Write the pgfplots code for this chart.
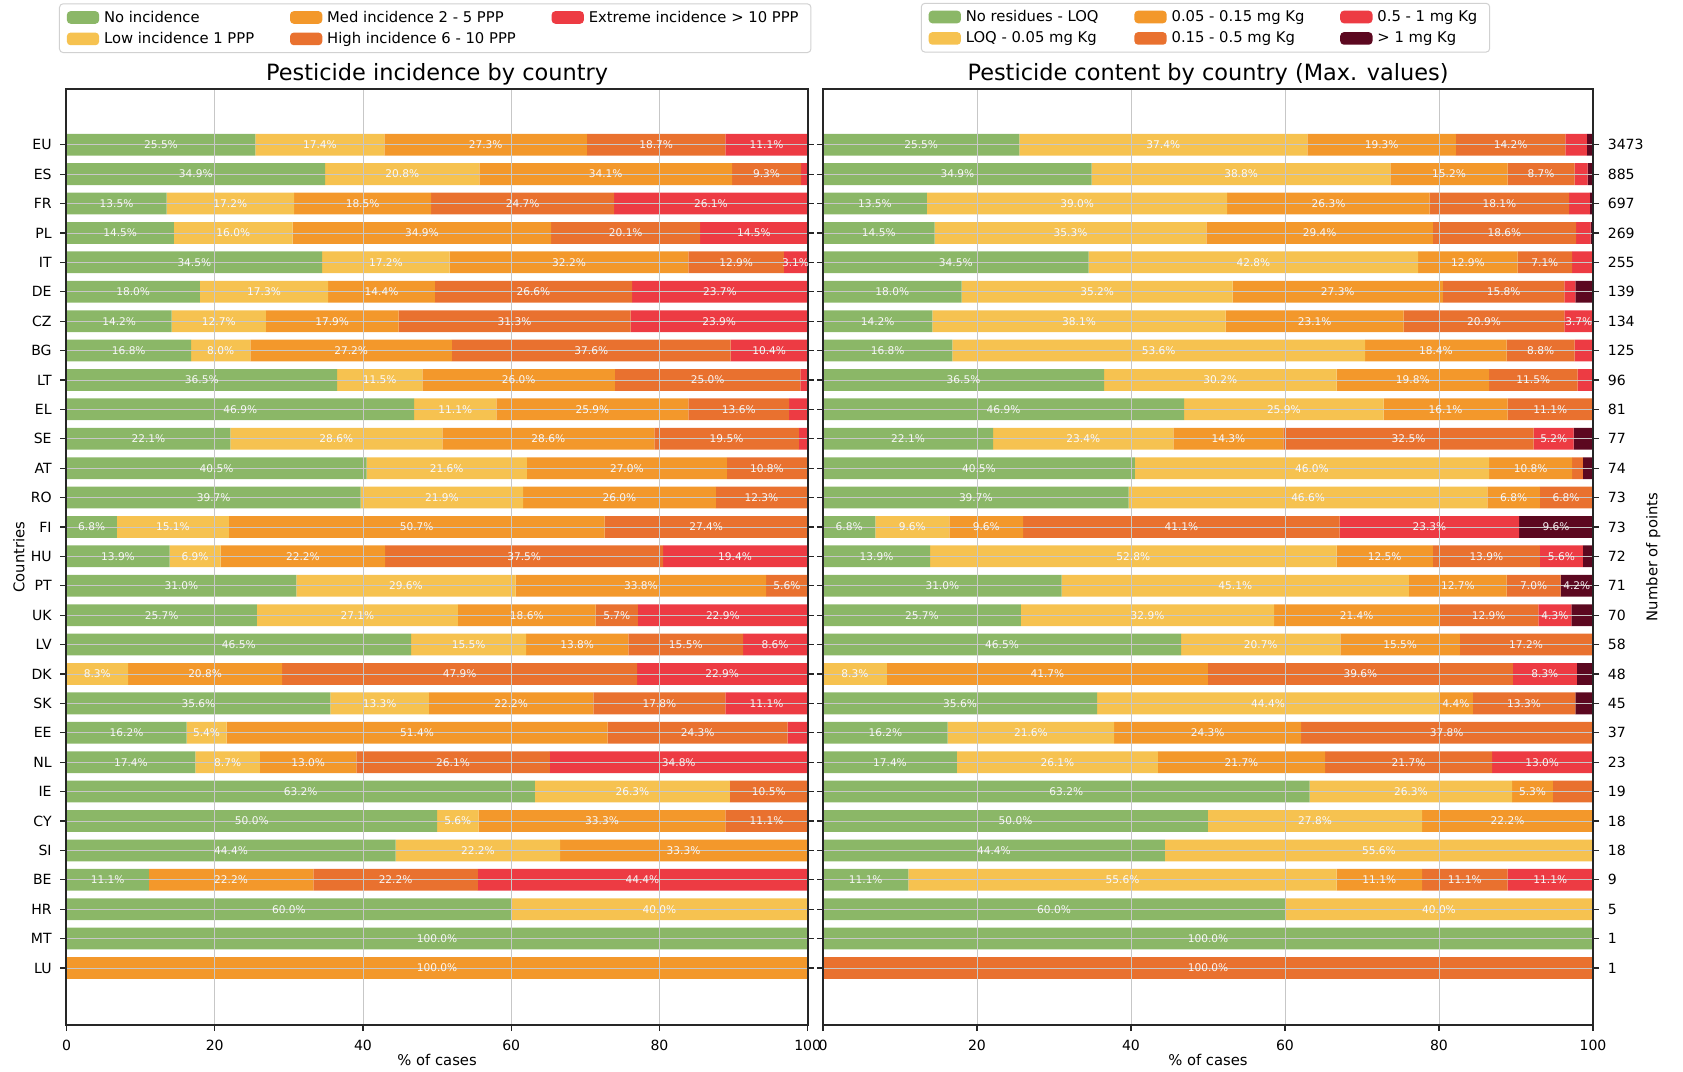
\documentclass[border=0pt]{standalone}
\usepackage{pgfplots}
\usepackage{pgfplotstable}
\usepackage{fontspec}
\setmainfont{DejaVu Sans}
\pgfplotsset{compat=1.18}

% category colours
\definecolor{cNone}{RGB}{139,183,103}
\definecolor{cLow}{RGB}{246,194,80}
\definecolor{cMed}{RGB}{243,152,43}
\definecolor{cHigh}{RGB}{233,113,47}
\definecolor{cExt}{RGB}{237,59,67}
\definecolor{cMax}{RGB}{92,8,32}

% share of cases (%) per incidence class
\pgfplotstableread{
idx none low med high ext
0  25.5 17.4 27.3 18.7 11.1
1  34.9 20.8 34.1  9.3  0.9
2  13.5 17.2 18.5 24.7 26.1
3  14.5 16.0 34.9 20.1 14.5
4  34.5 17.2 32.2 12.9  3.1
5  18.0 17.3 14.4 26.6 23.7
6  14.2 12.7 17.9 31.3 23.9
7  16.8  8.0 27.2 37.6 10.4
8  36.5 11.5 26.0 25.0  1.0
9  46.9 11.1 25.9 13.6  2.5
10 22.1 28.6 28.6 19.5  1.2
11 40.5 21.6 27.0 10.8  0.0
12 39.7 21.9 26.0 12.3  0.0
13  6.8 15.1 50.7 27.4  0.0
14 13.9  6.9 22.2 37.5 19.4
15 31.0 29.6 33.8  5.6  0.0
16 25.7 27.1 18.6  5.7 22.9
17 46.5 15.5 13.8 15.5  8.6
18  0.0  8.3 20.8 47.9 22.9
19 35.6 13.3 22.2 17.8 11.1
20 16.2  5.4 51.4 24.3  2.7
21 17.4  8.7 13.0 26.1 34.8
22 63.2 26.3  0.0 10.5  0.0
23 50.0  5.6 33.3 11.1  0.0
24 44.4 22.2 33.3  0.0  0.0
25 11.1  0.0 22.2 22.2 44.4
26 60.0 40.0  0.0  0.0  0.0
27 100.0 0.0  0.0  0.0  0.0
28  0.0  0.0 100.0 0.0  0.0
}\incidence

% share of cases (%) per maximum residue class
\pgfplotstableread{
idx r0 r1 r2 r3 r4 r5
0  25.5 37.4 19.3 14.2  2.8 0.8
1  34.9 38.8 15.2  8.7  1.7 0.7
2  13.5 39.0 26.3 18.1  2.7 0.4
3  14.5 35.3 29.4 18.6  1.9 0.3
4  34.5 42.8 12.9  7.1  2.7 0.0
5  18.0 35.2 27.3 15.8  1.4 2.2
6  14.2 38.1 23.1 20.9  3.7 0.0
7  16.8 53.6 18.4  8.8  2.4 0.0
8  36.5 30.2 19.8 11.5  2.1 0.0
9  46.9 25.9 16.1 11.1  0.0 0.0
10 22.1 23.4 14.3 32.5  5.2 2.6
11 40.5 46.0 10.8  1.4  0.0 1.4
12 39.7 46.6  6.8  6.8  0.0 0.0
13  6.8  9.6  9.6 41.1 23.3 9.6
14 13.9 52.8 12.5 13.9  5.6 1.4
15 31.0 45.1 12.7  7.0  0.0 4.2
16 25.7 32.9 21.4 12.9  4.3 2.9
17 46.5 20.7 15.5 17.2  0.0 0.0
18  0.0  8.3 41.7 39.6  8.3 2.1
19 35.6 44.4  4.4 13.3  0.0 2.2
20 16.2 21.6 24.3 37.8  0.0 0.0
21 17.4 26.1 21.7 21.7 13.0 0.0
22 63.2 26.3  5.3  5.3  0.0 0.0
23 50.0 27.8 22.2  0.0  0.0 0.0
24 44.4 55.6  0.0  0.0  0.0 0.0
25 11.1 55.6 11.1 11.1 11.1 0.0
26 60.0 40.0  0.0  0.0  0.0 0.0
27 100.0 0.0  0.0  0.0  0.0 0.0
28  0.0  0.0  0.0 100.0 0.0 0.0
}\content

% value label, only for segments of at least 3 %
\newcommand{\barlabel}{\ifdim\pgfplotspointmetatransformed pt<30pt\relax\else\pgfmathprintnumber[fixed,fixed zerofill,precision=1]{\pgfplotspointmeta}\%\fi}

\pgfplotsset{
  panel/.style={
    scale only axis, height=13.35cm,
    xbar stacked, bar width=0.74,
    y dir=reverse,
    xmin=0, xmax=100, ymin=-1.9, ymax=29.94,
    xtick={0,20,40,60,80,100},
    ytick={0,...,28},
    tick align=outside, major tick length=2.5pt,
    xtick pos=bottom, ytick pos=both,
    xmajorgrids, ymajorgrids,
    grid style={black!22, line width=0.35pt},
    axis on top,
    axis line style={line width=0.8pt, black!85},
    every tick/.style={black!85, line width=0.5pt},
    tick label style={font=\fontsize{5.7}{7}\selectfont},
    /pgf/number format/assume math mode=true,
    label style={font=\fontsize{6}{7}\selectfont},
    every axis title/.style={font=\fontsize{9.1}{11}\selectfont, at={(0.5,1)}, anchor=south, inner sep=0pt, yshift=0.045cm},
    xlabel={\% of cases},
    xlabel style={at={(0.5,0)}, anchor=center, yshift=-0.5cm},
    point meta=explicit, point meta min=0, point meta max=100,
    nodes near coords={\barlabel},
    every node near coord/.append style={font=\fontsize{4.3}{5}\selectfont, text=white, text opacity=0.92,
      anchor=center, inner sep=0pt},
    legend image code/.code={\fill[#1] (0cm,-0.09cm) rectangle (0.46cm,0.09cm);},
    legend style={draw=black!18, rounded corners=1.5pt, font=\fontsize{6}{7}\selectfont,
      anchor=north west, inner xsep=3pt, inner ysep=1.5pt, row sep=0.6pt,
      nodes={inner ysep=0.5pt, text height=5.4pt, text depth=1.7pt},
      /tikz/every even column/.append style={column sep=0.44cm}},
    legend cell align=left,
    legend columns=2, transpose legend,
  },
  seg/.style={draw=none, fill=#1},
}

\begin{document}
\begin{tikzpicture}
\useasboundingbox (-0.948cm,-0.656cm) rectangle (23.052cm,14.617cm);

% left panel: incidence classes
\begin{axis}[panel,
  at={(0cm,0cm)}, anchor=south west, width=10.57cm,
  title={Pesticide incidence by country},
  yticklabels={EU,ES,FR,PL,IT,DE,CZ,BG,LT,EL,SE,AT,RO,FI,HU,PT,UK,LV,DK,SK,EE,NL,IE,CY,SI,BE,HR,MT,LU},
  ylabel={Countries},
  ylabel style={at={(-0.0641,0.5)}, anchor=center},
  legend style={at={(-0.0101,1.0914)}},
]
\addplot[seg=cNone] table[x=none, y=idx, meta=none] {\incidence};
\addplot[seg=cLow]  table[x=low,  y=idx, meta=low]  {\incidence};
\addplot[seg=cMed]  table[x=med,  y=idx, meta=med]  {\incidence};
\addplot[seg=cHigh] table[x=high, y=idx, meta=high] {\incidence};
\addplot[seg=cExt]  table[x=ext,  y=idx, meta=ext]  {\incidence};
\legend{No incidence, Low incidence 1 PPP, Med incidence 2 - 5 PPP, High incidence 6 - 10 PPP, Extreme incidence > 10 PPP}
\end{axis}

% right panel: maximum residue content
\begin{axis}[panel,
  at={(10.788cm,0cm)}, anchor=south west, width=10.98cm,
  title={Pesticide content by country (Max. values)},
  yticklabel pos=right,
  yticklabels={3473,885,697,269,255,139,134,125,96,81,77,74,73,73,72,71,70,58,48,45,37,23,19,18,18,9,5,1,1},
  ylabel={Number of points},
  ylabel style={at={(1.0783,0.5)}, anchor=center},
  legend style={at={(0.127,1.0919)}},
]
\addplot[seg=cNone] table[x=r0, y=idx, meta=r0] {\content};
\addplot[seg=cLow]  table[x=r1, y=idx, meta=r1] {\content};
\addplot[seg=cMed]  table[x=r2, y=idx, meta=r2] {\content};
\addplot[seg=cHigh] table[x=r3, y=idx, meta=r3] {\content};
\addplot[seg=cExt]  table[x=r4, y=idx, meta=r4] {\content};
\addplot[seg=cMax]  table[x=r5, y=idx, meta=r5] {\content};
\legend{No residues - LOQ, LOQ - 0.05 mg Kg, 0.05 - 0.15 mg Kg, 0.15 - 0.5 mg Kg, 0.5 - 1 mg Kg, > 1 mg Kg}
\end{axis}
\end{tikzpicture}
\end{document}
